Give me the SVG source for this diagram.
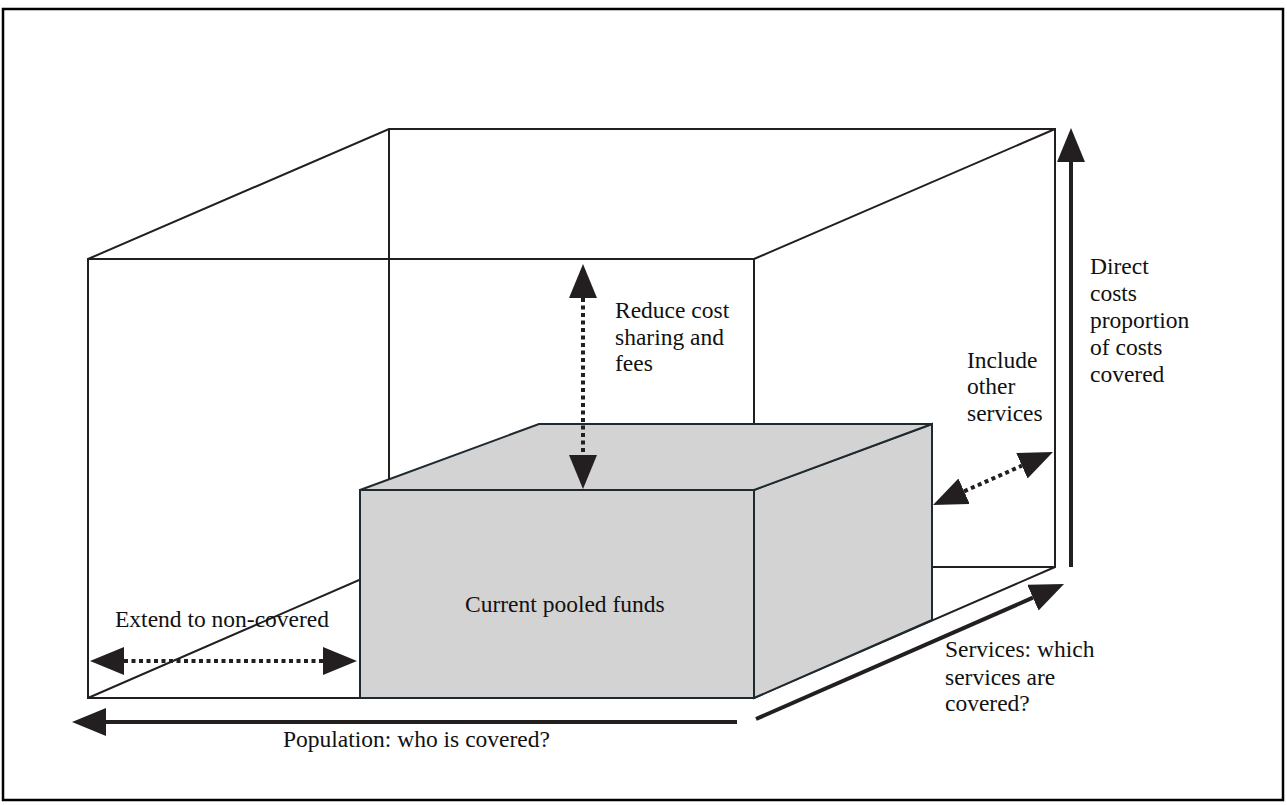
<svg xmlns="http://www.w3.org/2000/svg" width="1287" height="805" viewBox="0 0 1287 805">
  <style>
    .edge { fill: none; stroke: #231f20; stroke-width: 2; stroke-linejoin: miter; }
    .block { fill: #d3d3d3; stroke: #1f2a30; stroke-width: 2; stroke-linejoin: miter; }
    .solid { fill: none; stroke: #231f20; stroke-width: 4; }
    .dotted { fill: none; stroke: #231f20; stroke-width: 4; stroke-dasharray: 4 3.5; }
    .label { font-family: "Liberation Serif", "Times New Roman", serif; font-size: 23.5px; fill: #111; }
  </style>
  <defs>
    <marker id="head" markerUnits="userSpaceOnUse" viewBox="0 0 34 28" refX="0" refY="14" markerWidth="34" markerHeight="28" orient="auto-start-reverse">
      <path d="M0,0 L34,14 L0,28 Z" fill="#231f20"/>
    </marker>
  </defs>

  <rect x="0" y="0" width="1287" height="805" fill="#ffffff"/>
  <!-- outer frame -->
  <rect x="3" y="9" width="1280" height="791" fill="none" stroke="#000" stroke-width="2.5"/>

  <!-- outer wireframe box: full coverage space -->
  <g id="coverage-box">
    <rect class="edge" x="88" y="259" width="666" height="439"/>
    <polyline class="edge" points="88,259 389,129 1055,129 1055,567 754,698"/>
    <line class="edge" x1="754" y1="259" x2="1055" y2="129"/>
    <line class="edge" x1="389" y1="129" x2="389" y2="567"/>
    <line class="edge" x1="389" y1="567" x2="1055" y2="567"/>
    <line class="edge" x1="88" y1="698" x2="389" y2="567"/>
  </g>

  <!-- inner shaded block: current pooled funds -->
  <g id="pooled-funds">
    <polygon class="block" points="754,490 932,424 932,620 754,698"/>
    <polygon class="block" points="360,490 539,424 932,424 754,490"/>
    <rect class="block" x="360" y="490" width="394" height="208"/>
    <text class="label" x="465" y="612">Current pooled funds</text>
  </g>

  <!-- dimension arrows -->
  <g id="connectors">
    <line class="dotted" x1="583" y1="298" x2="583" y2="455" marker-start="url(#head)" marker-end="url(#head)"/>
    <line class="dotted" x1="124" y1="661" x2="323" y2="661" marker-start="url(#head)" marker-end="url(#head)"/>
    <line class="dotted" x1="964.1" y1="491.3" x2="1021.9" y2="465.7" marker-start="url(#head)" marker-end="url(#head)"/>
    <line class="solid" x1="1071" y1="567" x2="1071" y2="162" marker-end="url(#head)"/>
    <line class="solid" x1="737" y1="722" x2="106" y2="722" marker-end="url(#head)"/>
    <line class="solid" x1="756" y1="719" x2="1032.9" y2="597.7" marker-end="url(#head)"/>
  </g>

  <g id="label-cost-sharing">
    <text class="label" x="615" y="318">Reduce cost</text>
    <text class="label" x="615" y="345">sharing and</text>
    <text class="label" x="615" y="371">fees</text>
  </g>
  <g id="label-other-services">
    <text class="label" x="967" y="368">Include</text>
    <text class="label" x="967" y="394">other</text>
    <text class="label" x="967" y="421">services</text>
  </g>
  <g id="label-direct-costs">
    <text class="label" x="1090" y="274">Direct</text>
    <text class="label" x="1090" y="301">costs</text>
    <text class="label" x="1090" y="328">proportion</text>
    <text class="label" x="1090" y="355">of costs</text>
    <text class="label" x="1090" y="382">covered</text>
  </g>
  <g id="label-non-covered">
    <text class="label" x="115" y="627">Extend to non-covered</text>
  </g>
  <g id="label-services">
    <text class="label" x="945" y="657">Services: which</text>
    <text class="label" x="945" y="685">services are</text>
    <text class="label" x="945" y="711">covered?</text>
  </g>
  <g id="label-population">
    <text class="label" x="283" y="747">Population: who is covered?</text>
  </g>
</svg>
